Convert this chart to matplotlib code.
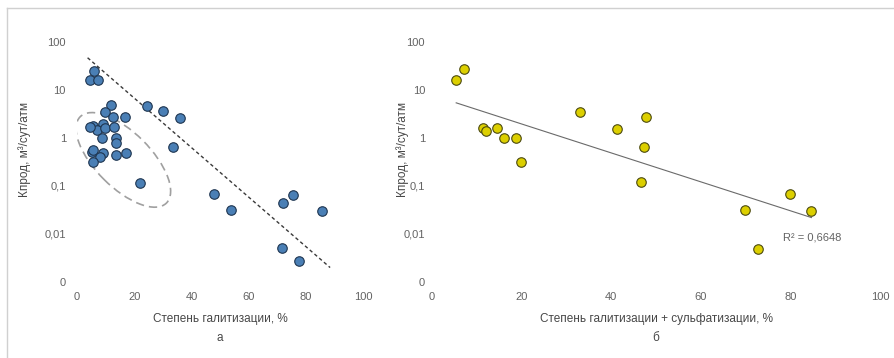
"""Two log-scale scatter panels: productivity vs. degree of halitization (a)
and halitization + sulfatization (b)."""
import matplotlib
matplotlib.use("Agg")
import matplotlib.pyplot as plt
import matplotlib.transforms as mtransforms
import numpy as np
from matplotlib.lines import Line2D
from matplotlib.patches import Ellipse

plt.rcParams["font.family"] = ["Liberation Sans", "DejaVu Sans"]

# panel a: степень галитизации, % / Кпрод
hal_x = [6.0, 4.5, 7.5, 11.9, 9.8, 12.5, 16.9, 5.5, 9.2, 6.9, 4.5, 9.8, 13.0,
         8.7, 13.6, 13.6, 5.1, 5.5, 9.0, 8.0, 5.5, 13.6, 17.1, 22.0, 24.4,
         30.2, 36.0, 33.5, 48.0, 53.8, 71.9, 75.6, 85.7, 71.7, 77.5]
hal_y = [25, 16, 16, 4.9, 3.5, 2.7, 2.8, 1.8, 1.95, 1.47, 1.66, 1.6, 1.72,
         1.0, 1.0, 0.8, 0.52, 0.55, 0.48, 0.41, 0.31, 0.44, 0.48, 0.117, 4.6,
         3.65, 2.6, 0.66, 0.068, 0.031, 0.045, 0.065, 0.030, 0.005, 0.0027]

# panel b: степень галитизации + сульфатизации, % / Кпрод
hs_x = [5.4, 7.2, 11.3, 12.0, 14.4, 16.1, 18.7, 19.9, 33.0, 41.4, 47.8, 47.3,
        46.6, 69.8, 72.7, 79.8, 84.7]
hs_y = [16, 27, 1.64, 1.42, 1.64, 0.99, 1.0, 0.32, 3.5, 1.54, 2.8, 0.66,
        0.12, 0.031, 0.0049, 0.068, 0.030]

# hand-drawn boundary in panel a (ends) and the cluster ellipse centre
bound_x = [3.7, 88.5]
bound_y = [47, 0.002]
ell_center = (16.2, 0.35)

y_ticks = [0.001, 0.01, 0.1, 1, 10, 100]
y_labels = ["0", "0,01", "0,1", "1", "10", "100"]
x_ticks = [0, 20, 40, 60, 80, 100]

TICK_C = "#636363"
LABEL_C = "#474747"

fig = plt.figure(figsize=(8.94, 3.58), dpi=100)
ax_a = fig.add_axes([77 / 894, 1 - 282 / 358, 286 / 894, 240 / 358])
ax_b = fig.add_axes([432 / 894, 1 - 282 / 358, 448 / 894, 240 / 358])

for ax, ypad in ((ax_a, 8), (ax_b, 5)):
    ax.set_yscale("log")
    ax.set_ylim(0.001, 100)
    ax.set_xlim(0, 100)
    ax.set_yticks(y_ticks)
    ax.set_yticklabels(y_labels)
    ax.set_xticks(x_ticks)
    ax.minorticks_off()
    ax.tick_params(axis="y", length=0, pad=ypad, labelsize=8, colors=TICK_C)
    ax.tick_params(axis="x", length=0, pad=7, labelsize=8, colors=TICK_C)
    for s in ax.spines.values():
        s.set_visible(False)
    ax.patch.set_alpha(0)

# panel a
ax_a.plot(bound_x, bound_y, color="#3a3a3a", lw=1.0, ls=(0, (2.5, 2)), zorder=2)
ell_trans = fig.dpi_scale_trans + mtransforms.ScaledTranslation(
    ell_center[0], ell_center[1], ax_a.transData)
ax_a.add_patch(Ellipse((0, 0), 1.22, 0.55, angle=-45, transform=ell_trans,
                       fill=False, ec="#a0a0a0", lw=1.2, ls=(0, (5, 3)), zorder=2))
ax_a.scatter(hal_x, hal_y, s=47, c="#4a7fb5", edgecolors="#1e3550",
             linewidths=0.8, zorder=3)

# panel b: exponential trendline as Excel does it (fit on ln y)
b, a = np.polyfit(hs_x, np.log(hs_y), 1)
tx = np.array([min(hs_x), max(hs_x)])
ax_b.plot(tx, np.exp(a + b * tx), color="#6a6a6a", lw=0.8, zorder=2)
ax_b.scatter(hs_x, hs_y, s=47, c="#dccf00", edgecolors="#4b4a10",
             linewidths=0.8, zorder=3)
ax_b.text(78.3, 0.0083, "R² = 0,6648", fontsize=8, color=TICK_C,
          ha="left", va="center")

# axis titles
fig.text(25 / 894, 1 - 150 / 358, "Кпрод, м³/сут/атм", rotation=90,
         ha="center", va="center", fontsize=8.5, color=LABEL_C)
fig.text(403 / 894, 1 - 150 / 358, "Кпрод, м³/сут/атм", rotation=90,
         ha="center", va="center", fontsize=8.5, color=LABEL_C)
fig.text(220 / 894, 1 - 319 / 358, "Степень галитизации, %",
         ha="center", va="center", fontsize=8.5, color=LABEL_C)
fig.text(656 / 894, 1 - 319 / 358, "Степень галитизации + сульфатизации, %",
         ha="center", va="center", fontsize=8.5, color=LABEL_C)
fig.text(220 / 894, 1 - 338 / 358, "а", ha="center", va="center",
         fontsize=8.5, color=LABEL_C)
fig.text(656 / 894, 1 - 338 / 358, "б", ha="center", va="center",
         fontsize=8.5, color=LABEL_C)

# thin frame on the left and top of the picture
fig.add_artist(Line2D([7 / 894, 7 / 894], [0, 1 - 8 / 358],
                      transform=fig.transFigure, color="#d0d0d0", lw=1))
fig.add_artist(Line2D([7 / 894, 1], [1 - 8 / 358, 1 - 8 / 358],
                      transform=fig.transFigure, color="#d0d0d0", lw=1))

fig.savefig("out.png", dpi=100)
